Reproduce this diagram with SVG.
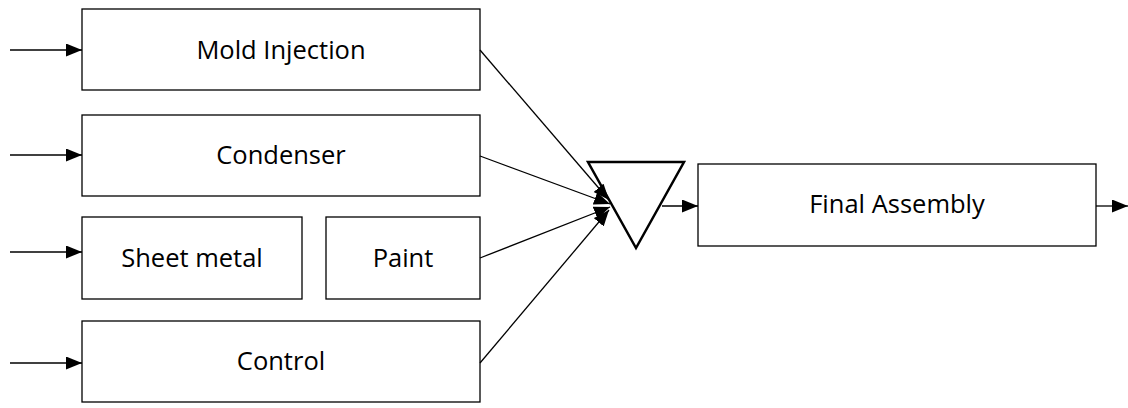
<svg xmlns="http://www.w3.org/2000/svg" width="1128" height="408" viewBox="0 0 1128 408">
<style>
.box{fill:#fff;stroke:#000;stroke-width:1.3}
.lbl{font-family:"Open Sans","Liberation Sans",sans-serif;font-size:25.5px;fill:#000;text-anchor:middle}
.edge{stroke:#000;stroke-width:1.3;fill:none}
</style>
<defs>
<marker id="ah" markerWidth="17" markerHeight="14" refX="16" refY="6.5" orient="auto" markerUnits="userSpaceOnUse">
<path d="M0,0 L16,6.5 L0,13 Z" fill="#000"/>
</marker>
</defs>
<g id="mold"><rect class="box" x="82" y="9" width="398" height="81"/><text class="lbl" x="281" y="59">Mold Injection</text></g>
<g id="condenser"><rect class="box" x="82" y="115" width="398" height="81"/><text class="lbl" x="281" y="164">Condenser</text></g>
<g id="sheet"><rect class="box" x="82" y="217" width="220" height="82"/><text class="lbl" x="192" y="267">Sheet metal</text></g>
<g id="paint"><rect class="box" x="326" y="217" width="154" height="82"/><text class="lbl" x="403" y="267">Paint</text></g>
<g id="control"><rect class="box" x="82" y="321" width="398" height="81"/><text class="lbl" x="281" y="370">Control</text></g>
<g id="merge"><polygon points="588,162 684,162 636,248" fill="#fff" stroke="#000" stroke-width="2.5"/></g>
<g id="final"><rect class="box" x="698" y="164" width="398" height="82"/><text class="lbl" x="897" y="213">Final Assembly</text></g>
<g id="connectors">
<line class="edge" x1="10" y1="50" x2="82" y2="50" marker-end="url(#ah)"/>
<line class="edge" x1="10" y1="155" x2="82" y2="155" marker-end="url(#ah)"/>
<line class="edge" x1="10" y1="252" x2="82" y2="252" marker-end="url(#ah)"/>
<line class="edge" x1="10" y1="363" x2="82" y2="363" marker-end="url(#ah)"/>
<line class="edge" x1="480" y1="50" x2="609" y2="200" marker-end="url(#ah)"/>
<line class="edge" x1="480" y1="156" x2="610" y2="204" marker-end="url(#ah)"/>
<line class="edge" x1="480" y1="258" x2="610" y2="207" marker-end="url(#ah)"/>
<line class="edge" x1="480" y1="363" x2="609" y2="210" marker-end="url(#ah)"/>
<line class="edge" x1="662" y1="206" x2="698" y2="206" marker-end="url(#ah)"/>
<line class="edge" x1="1096" y1="206" x2="1128" y2="206" marker-end="url(#ah)"/>
</g>
</svg>
